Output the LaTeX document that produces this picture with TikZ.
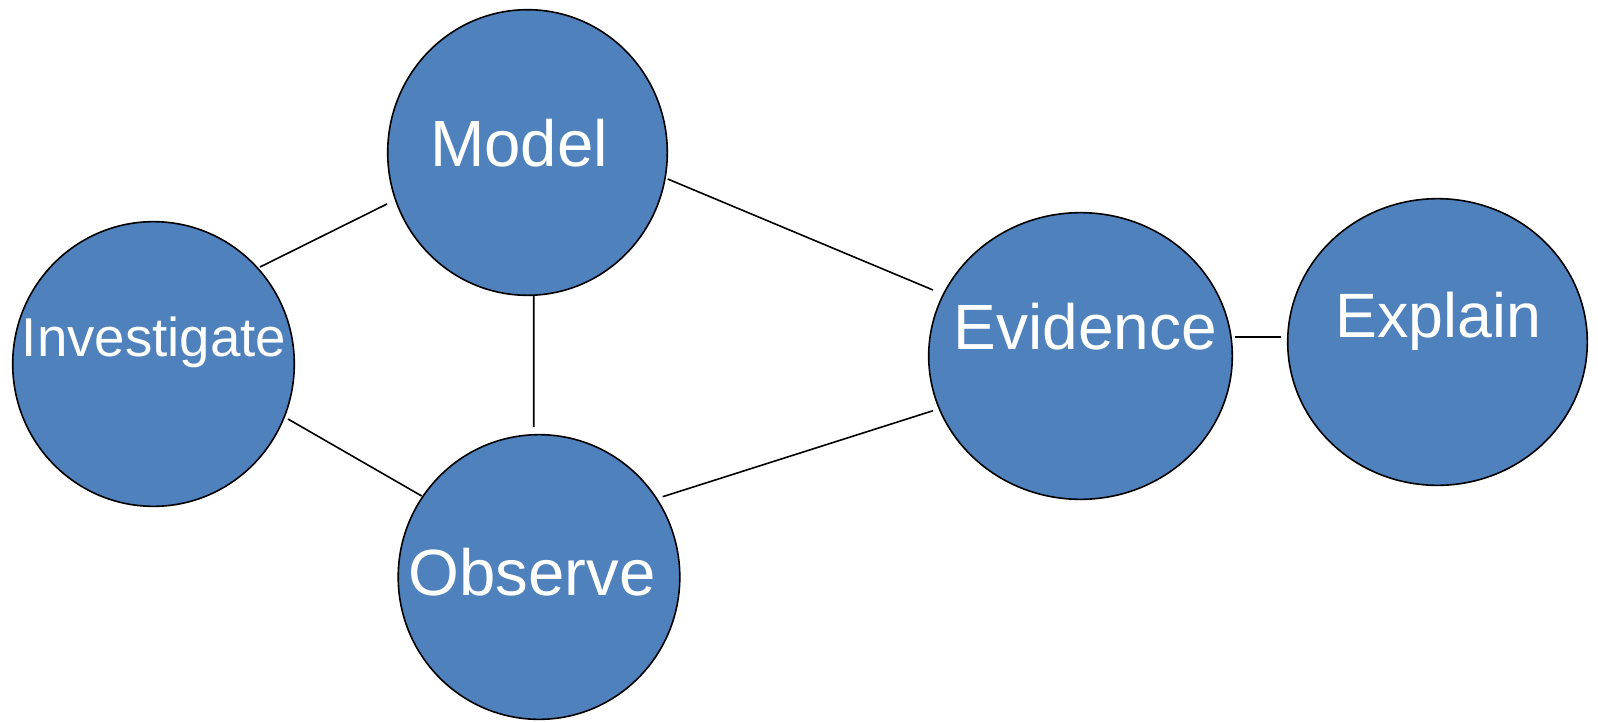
\documentclass[tikz,border=0pt]{standalone}
\usepackage{fontspec}
\setmainfont{Liberation Sans}
\usetikzlibrary{shapes.geometric}
\definecolor{bubblefill}{RGB}{79,129,189}
\tikzset{
  bubble/.style={ellipse, draw=black, line width=1.2pt, fill=bubblefill,
                 inner sep=0pt, outer sep=0pt},
  lbl/.style={text=white, inner sep=0pt, anchor=base},
  link/.style={draw=black, line width=1.2pt},
}
\begin{document}
\begin{tikzpicture}[x=0.75pt, y=-0.75pt]
  \useasboundingbox (0,0) rectangle (1598,721);

  % the five stages
  \node[bubble, minimum width=211.2pt, minimum height=213.5pt] (inv) at (153.5,364) {};
  \node[bubble, minimum width=209.7pt, minimum height=214.2pt] (model) at (527.5,152.5) {};
  \node[bubble, minimum width=211.2pt, minimum height=213.5pt] (obs) at (539,577) {};
  \node[bubble, minimum width=227.7pt, minimum height=215pt] (evid) at (1080.5,356) {};
  \node[bubble, minimum width=224.7pt, minimum height=215pt] (expl) at (1437.5,342) {};

  % stage names
  \node[lbl, font=\fontsize{41}{49}\selectfont] (inv-l) at ([shift={(0.5,-8)}]inv.center) {Investigate};
  \node[lbl, font=\fontsize{49}{58}\selectfont] (model-l) at ([shift={(-8.5,13.5)}]model.center) {Model};
  \node[lbl, font=\fontsize{49}{58}\selectfont] (obs-l) at ([shift={(-7,18)}]obs.center) {Observe};
  \node[lbl, font=\fontsize{48}{57}\selectfont] (evid-l) at ([shift={(5,-7)}]evid.center) {Evidence};
  \node[lbl, font=\fontsize{47}{56}\selectfont] (expl-l) at ([shift={(1,-5)}]expl.center) {Explain};

  % links between the stages
  \draw[link] ([shift={(-140.5,51.5)}]model.center) -- ([shift={(106.5,-97)}]inv.center);
  \draw[link] ([shift={(134.5,55)}]inv.center) -- ([shift={(-117.3,-81)}]obs.center);
  \draw[link] ([shift={(6.2,143.2)}]model.center) -- ([shift={(-5.3,-150)}]obs.center);
  \draw[link] ([shift={(140.2,26.5)}]model.center) -- ([shift={(-147.5,-66)}]evid.center);
  \draw[link] ([shift={(123.7,-80.3)}]obs.center) -- ([shift={(-147.5,54.7)}]evid.center);
  \draw[link] ([shift={(154.5,-19)}]evid.center) -- ([shift={(-156.5,-5)}]expl.center);
\end{tikzpicture}
\end{document}
